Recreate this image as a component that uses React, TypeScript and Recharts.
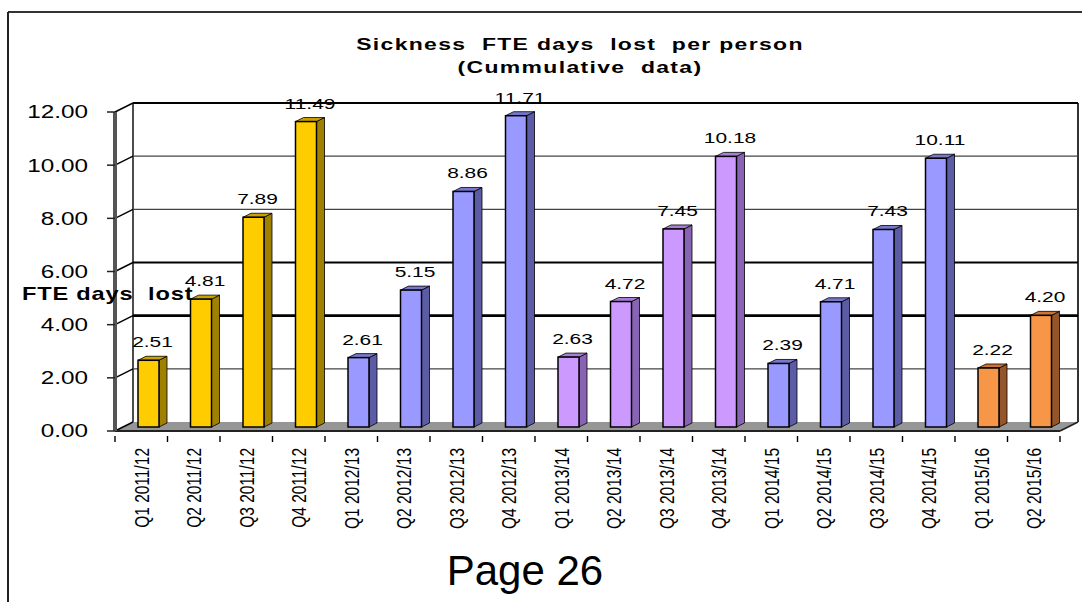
import { BarChart, Bar, XAxis, YAxis, CartesianGrid, LabelList } from 'recharts'

const categories = [
  'Q1 2011/12', 'Q2 2011/12', 'Q3 2011/12', 'Q4 2011/12',
  'Q1 2012/13', 'Q2 2012/13', 'Q3 2012/13', 'Q4 2012/13',
  'Q1 2013/14', 'Q2 2013/14', 'Q3 2013/14', 'Q4 2013/14',
  'Q1 2014/15', 'Q2 2014/15', 'Q3 2014/15', 'Q4 2014/15',
  'Q1 2015/16', 'Q2 2015/16',
]
const daysLost = [
  2.51, 4.81, 7.89, 11.49,
  2.61, 5.15, 8.86, 11.71,
  2.63, 4.72, 7.45, 10.18,
  2.39, 4.71, 7.43, 10.11,
  2.22, 4.2,
]
const yTicks = [0, 2, 4, 6, 8, 10, 12]

// front / side / top colours per financial year
const yearColours: Record<string, [string, string, string]> = {
  '2011/12': ['#ffcc00', '#a08000', '#c9a200'],
  '2012/13': ['#9999ff', '#5c5ca6', '#7777cc'],
  '2013/14': ['#cc99ff', '#8a64b4', '#a77fd8'],
  '2014/15': ['#9999ff', '#5c5ca6', '#7777cc'],
  '2015/16': ['#f79646', '#95552a', '#c8753a'],
}

const data = categories.map((category, i) => ({ category, value: daysLost[i] }))

const W = 1082
const H = 602
const LEFT = 115
const RIGHT = 1060
const STEP = (RIGHT - LEFT) / categories.length
const DX = 18 // depth of the back wall
const DY = -9
const SX = 1.35 // the text in the original is stretched wide
const FONT = 'Arial, "Liberation Sans", sans-serif'

function gridStyle(v: number) {
  if (v === 12 || v === 6) return { stroke: '#000', width: 2 }
  if (v === 4) return { stroke: '#000', width: 2.6 }
  return { stroke: '#444', width: 1.4 }
}

function GridLine(p: any) {
  const { x1, x2, y1, index } = p
  const top = p.y ?? 112
  const h = p.height ?? 319
  const floorY = top + h
  const v = Math.round(((floorY - y1) / h) * 12)
  const s = gridStyle(v)
  if (v === 0) {
    return (
      <g key={`g-${index}`}>
        <polygon
          points={`${x1},${y1} ${x2},${y1} ${x2 + DX},${y1 + DY} ${x1 + DX},${y1 + DY}`}
          fill="#969696"
        />
        <line x1={x1} y1={y1} x2={x1 + DX} y2={y1 + DY} stroke="#000" strokeWidth={1.4} />
        <line x1={x2} y1={y1} x2={x2 + DX} y2={y1 + DY} stroke="#222" strokeWidth={1.6} />
        <line x1={x1 + DX} y1={top + DY} x2={x1 + DX} y2={y1 + DY} stroke="#000" strokeWidth={1.4} />
        <line x1={x2 + DX} y1={top + DY} x2={x2 + DX} y2={y1 + DY} stroke="#333" strokeWidth={2} />
      </g>
    )
  }
  return (
    <g key={`g-${index}`}>
      <line x1={x1} y1={y1} x2={x1 + DX} y2={y1 + DY} stroke="#000" strokeWidth={1.4} />
      <line x1={x1 + DX} y1={y1 + DY} x2={x2 + DX} y2={y1 + DY} stroke={s.stroke} strokeWidth={s.width} />
    </g>
  )
}

function Bar3D(p: any) {
  const { x, y, width, height, payload } = p
  if (height == null || height <= 0) return null
  const year = String(payload.category).split(' ')[1]
  const [front, side, topC] = yearColours[year]
  const bx = x + 7
  const by = y - 4
  const d = 8
  const e = -4
  return (
    <g>
      <polygon
        points={`${bx + width},${by} ${bx + width + d},${by + e} ${bx + width + d},${by + height + e} ${bx + width},${by + height}`}
        fill={side}
        stroke="#000"
        strokeWidth={0.8}
      />
      <polygon
        points={`${bx},${by} ${bx + d},${by + e} ${bx + width + d},${by + e} ${bx + width},${by}`}
        fill={topC}
        stroke="#000"
        strokeWidth={0.8}
      />
      <rect x={bx} y={by} width={width} height={height} fill={front} stroke="#000" strokeWidth={1.5} />
    </g>
  )
}

function ValueLabel(p: any) {
  const { x, y, width, value } = p
  return (
    <text
      transform={`translate(${x + width / 2 + 11},${y - 17}) scale(${SX},1)`}
      textAnchor="middle"
      fontFamily={FONT}
      fontSize={15.5}
      fill="#000"
    >
      {Number(value).toFixed(2)}
    </text>
  )
}

function YTick(p: any) {
  const { x, y, payload } = p
  return (
    <text
      transform={`translate(${x},${y}) scale(${SX},1)`}
      textAnchor="end"
      dy="0.36em"
      fontFamily={FONT}
      fontSize={18}
      fill="#000"
    >
      {Number(payload.value).toFixed(2)}
    </text>
  )
}

function XTick(p: any) {
  const { x, y, payload, index } = p
  const base = y - 2
  return (
    <g>
      <line x1={x - STEP / 2} y1={base - 1} x2={x - STEP / 2} y2={base + 5} stroke="#000" strokeWidth={1.4} />
      {index === categories.length - 1 && (
        <line x1={x + STEP / 2} y1={base - 1} x2={x + STEP / 2} y2={base + 5} stroke="#000" strokeWidth={1.4} />
      )}
      <text
        transform={`translate(${x},${base + 11}) scale(${SX},1) rotate(-90)`}
        textAnchor="end"
        dy="0.36em"
        fontFamily={FONT}
        fontSize={15.5}
        fill="#000"
      >
        {payload.value}
      </text>
    </g>
  )
}

export default function App() {
  return (
    <div style={{ position: 'relative', width: W, height: H, background: '#fff' }}>
      <style>{'body{margin:0}'}</style>
      <BarChart
        width={W}
        height={H}
        data={data}
        margin={{ top: 112, right: W - RIGHT, bottom: 71, left: 0 }}
        barSize={21}
      >
        <CartesianGrid vertical={false} horizontal={(p: any) => <GridLine {...p} key={p.key ?? p.index} />} />
        <XAxis
          dataKey="category"
          interval={0}
          height={100}
          tickLine={false}
          axisLine={{ stroke: '#222', strokeWidth: 2 }}
          tick={<XTick />}
        />
        <YAxis
          width={LEFT}
          domain={[0, 12]}
          ticks={yTicks}
          interval={0}
          tickSize={8}
          tickMargin={19}
          tickLine={{ stroke: '#222', strokeWidth: 1.5 }}
          axisLine={{ stroke: '#555', strokeWidth: 4 }}
          tick={<YTick />}
        />
        <Bar dataKey="value" shape={<Bar3D />} isAnimationActive={false}>
          <LabelList dataKey="value" content={<ValueLabel />} />
        </Bar>
      </BarChart>
      <svg
        width={W}
        height={H}
        style={{ position: 'absolute', left: 0, top: 0, pointerEvents: 'none' }}
      >
        <line x1={8} y1={12} x2={W} y2={12} stroke="#333" strokeWidth={2} />
        <line x1={8} y1={12} x2={8} y2={H} stroke="#222" strokeWidth={2} />
        <g fontFamily={FONT} fontWeight="bold" fontSize={17} fill="#000">
          <text
            transform={`translate(580,50) scale(${SX},1)`}
            textAnchor="middle"
            letterSpacing={1}
            style={{ whiteSpace: 'pre' }}
          >
            {'Sickness  FTE days  lost  per person'}
          </text>
          <text
            transform={`translate(580,73) scale(${SX},1)`}
            textAnchor="middle"
            letterSpacing={1}
            style={{ whiteSpace: 'pre' }}
          >
            {'(Cummulative  data)'}
          </text>
          <text
            transform={`translate(22,300) scale(${SX},1)`}
            fontSize={17.5}
            letterSpacing={0.6}
            style={{ whiteSpace: 'pre' }}
          >
            {'FTE days  lost'}
          </text>
        </g>
        <text x={525} y={585} textAnchor="middle" fontFamily={FONT} fontSize={42} fill="#000">
          Page 26
        </text>
      </svg>
    </div>
  )
}
